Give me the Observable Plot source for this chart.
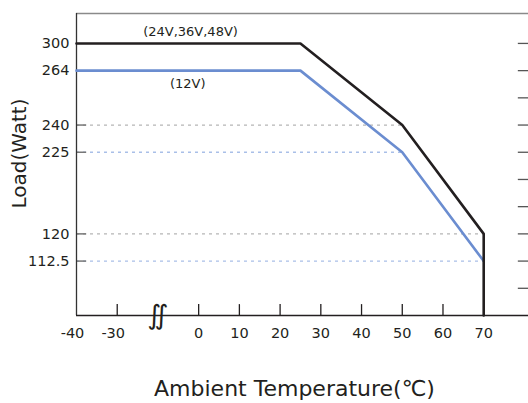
<!DOCTYPE html>
<html><head><meta charset="utf-8">
<script src="https://cdn.jsdelivr.net/npm/d3@7"></script>
<script src="https://cdn.jsdelivr.net/npm/@observablehq/plot@0.6"></script>
<style>html,body{margin:0;padding:0;background:#fff} svg{display:block}</style>
</head><body><div id="chart"></div>
<script>
// ---- data ----
const tempsHigh = [-40, 25, 50, 70, 70];
const loadHigh = [300, 300, 240, 120, 0];          // 24V,36V,48V
const tempsLow = [-40, 25, 50, 70];
const loadLow = [264, 264, 225, 112.5];            // 12V
const yTicks = [300, 264, 240, 225, 120, 112.5];
const xTicks = [-40, -30, 0, 10, 20, 30, 40, 50, 60, 70];
const grayGridLoads = [240, 120];
const grayGridEnds = [50, 70];
const blueGridLoads = [225, 112.5];
const blueGridEnds = [50, 70];
const seriesNames = ["(24V,36V,48V)", "(12V)"];
const seriesNameTemps = [-3, -4];
const seriesNameLoads = [313, 258];
// the vertical axis is not linear: each labelled load sits on a percent-of-rated step
const yStopWatts = [0, 112.5, 120, 225, 240, 264, 300, 333];
const yStopPct   = [0, 20, 30, 60, 70, 90, 100, 111];
const pctTicks = [10, 20, 30, 40, 50, 60, 70, 80, 90, 100];
// the horizontal axis has a break between -30 and 0
const xStops = [-40, -30, 0, 81];
const xSlots = [0, 1, 3, 11.1];

// ---- layout ----
const W = 528, H = 403, mL = 76, mR = 0, mT = 13, mB = 88;
const xRange = xSlots.map(s => mL + (W - mL - mR) * s / 11.1);
const yRange = yStopPct.map(p => H - mB - (H - mB - mT) * p / 111);
const pctToWatt = d3.scaleLinear(yStopPct, yStopWatts);

const BLACK = "#231f20", BLUE = "#6b8dd0";
const high = tempsHigh.map((t, i) => ({t, w: loadHigh[i]}));
const low = tempsLow.map((t, i) => ({t, w: loadLow[i]}));
const grayGrid = grayGridLoads.map((w, i) => ({w, end: grayGridEnds[i]}));
const blueGrid = blueGridLoads.map((w, i) => ({w, end: blueGridEnds[i]}));
const names = seriesNames.map((s, i) => ({s, t: seriesNameTemps[i], w: seriesNameLoads[i]}));
const font = "DejaVu Sans";

const chart = Plot.plot({
  width: W, height: H,
  marginLeft: mL, marginRight: mR, marginTop: mT, marginBottom: mB,
  style: {fontFamily: font, fontSize: "14px", color: BLACK, background: "#fff"},
  x: {type: "linear", domain: xStops, range: xRange, label: null},
  y: {type: "linear", domain: yStopWatts, range: yRange, label: null},
  marks: [
    // dotted guides
    Plot.ruleY(grayGrid, {y: "w", x1: -40, x2: "end", stroke: "#b5b5b5", strokeWidth: 1.3, strokeDasharray: "3,4"}),
    Plot.ruleY(blueGrid, {y: "w", x1: -40, x2: "end", stroke: "#a9bfe8", strokeWidth: 1.3, strokeDasharray: "3,4"}),
    // short inner ticks on the left axis
    Plot.ruleY(yTicks.slice(2), {x1: -40, x2: -37.5, stroke: "#777", strokeWidth: 1.5}),
    // right-side percent ticks
    Plot.ruleY(pctTicks.map(pctToWatt), {x1: 78.5, x2: 81, stroke: "#555", strokeWidth: 1.3}),
    // frame
    Plot.ruleY([333], {stroke: "#8a8a8a", strokeWidth: 1.3}),
    Plot.ruleX([-40], {y1: 0, y2: 333, stroke: "#333", strokeWidth: 1.3}),
    Plot.ruleY([0], {stroke: BLACK, strokeWidth: 1.3}),
    // x ticks pointing up
    Plot.ruleX(xTicks.slice(1), {y1: 0, y2: pctToWatt(4), stroke: BLACK, strokeWidth: 1.3}),
    // axis break
    Plot.text([{t: -15, w: 0, s: "∬"}], {x: "t", y: "w", text: "s", fontSize: 27, fill: BLACK, fontStyle: "italic"}),
    // curves
    Plot.line(low, {x: "t", y: "w", stroke: BLUE, strokeWidth: 2.6}),
    Plot.line(high, {x: "t", y: "w", stroke: BLACK, strokeWidth: 2.6}),
    // series names
    Plot.text(names, {x: "t", y: "w", text: "s", fontSize: 13, fill: BLACK}),
    // axes
    Plot.axisY(yTicks, {anchor: "left", tickSize: 0, tickPadding: 7, fontSize: 14.5, label: null, tickFormat: d => String(d)}),
    Plot.axisX(xTicks.filter(d => d < 0), {anchor: "bottom", tickSize: 0, tickPadding: 12, fontSize: 14.5, label: null, dx: -4, tickFormat: d => String(d)}),
    Plot.axisX(xTicks.filter(d => d >= 0), {anchor: "bottom", tickSize: 0, tickPadding: 12, fontSize: 14.5, label: null, tickFormat: d => String(d)}),
    // titles
    Plot.text(["Load(Watt)"], {frameAnchor: "left", rotate: -90, textAnchor: "middle", lineAnchor: "middle", dx: -57, dy: -11, fontSize: 20, fill: BLACK}),
    Plot.text(["Ambient Temperature(℃)"], {frameAnchor: "bottom", textAnchor: "middle", lineAnchor: "middle", dx: -8, dy: 73, fontSize: 22, fill: BLACK})
  ]
});
document.getElementById("chart").appendChild(chart);
</script>
</body></html>
